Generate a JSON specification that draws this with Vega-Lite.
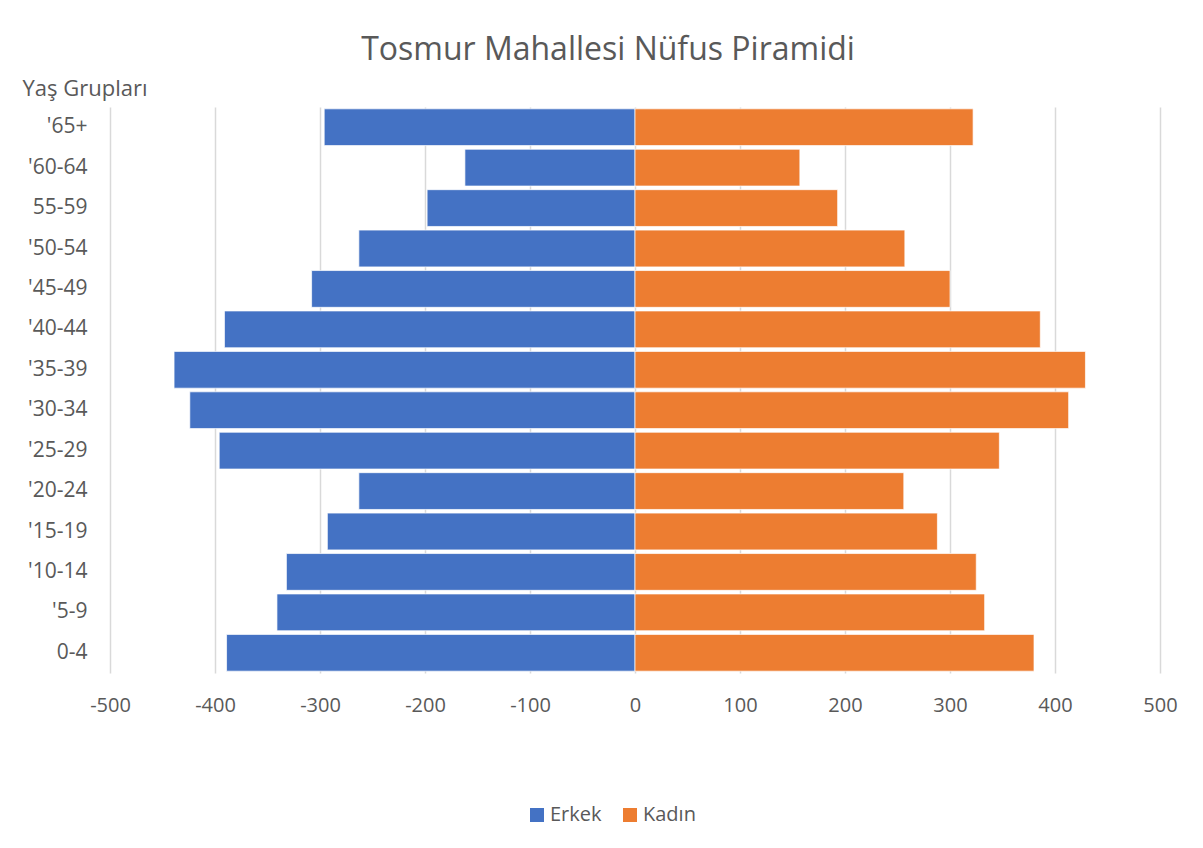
{
  "$schema": "https://vega.github.io/schema/vega-lite/v6.json",
  "autosize": "none",
  "width": 1050,
  "height": 566,
  "padding": {"left": 110, "top": 107, "right": 43, "bottom": 175},
  "background": "white",
  "config": {
    "font": "Open Sans",
    "view": {"stroke": null}
  },
  "title": {
    "text": "Tosmur Mahallesi Nüfus Piramidi",
    "font": "Open Sans",
    "fontSize": 32,
    "fontWeight": "normal",
    "color": "#595959",
    "anchor": "middle",
    "frame": "group",
    "dx": -27,
    "dy": 59,
    "baseline": "alphabetic",
    "offset": 44
  },
  "data": {
    "values": [
      {"age": "'65+", "sex": "Erkek", "value": -296},
      {"age": "'60-64", "sex": "Erkek", "value": -162},
      {"age": "55-59", "sex": "Erkek", "value": -198},
      {"age": "'50-54", "sex": "Erkek", "value": -263},
      {"age": "'45-49", "sex": "Erkek", "value": -308},
      {"age": "'40-44", "sex": "Erkek", "value": -391},
      {"age": "'35-39", "sex": "Erkek", "value": -439},
      {"age": "'30-34", "sex": "Erkek", "value": -424},
      {"age": "'25-29", "sex": "Erkek", "value": -396},
      {"age": "'20-24", "sex": "Erkek", "value": -263},
      {"age": "'15-19", "sex": "Erkek", "value": -293},
      {"age": "'10-14", "sex": "Erkek", "value": -332},
      {"age": "'5-9", "sex": "Erkek", "value": -341},
      {"age": "0-4", "sex": "Erkek", "value": -389},
      {"age": "'65+", "sex": "Kadın", "value": 322},
      {"age": "'60-64", "sex": "Kadın", "value": 157},
      {"age": "55-59", "sex": "Kadın", "value": 193},
      {"age": "'50-54", "sex": "Kadın", "value": 257},
      {"age": "'45-49", "sex": "Kadın", "value": 300},
      {"age": "'40-44", "sex": "Kadın", "value": 386},
      {"age": "'35-39", "sex": "Kadın", "value": 429},
      {"age": "'30-34", "sex": "Kadın", "value": 413},
      {"age": "'25-29", "sex": "Kadın", "value": 347},
      {"age": "'20-24", "sex": "Kadın", "value": 256},
      {"age": "'15-19", "sex": "Kadın", "value": 288},
      {"age": "'10-14", "sex": "Kadın", "value": 325},
      {"age": "'5-9", "sex": "Kadın", "value": 333},
      {"age": "0-4", "sex": "Kadın", "value": 380}
    ]
  },
  "mark": {"type": "bar", "stroke": "white", "strokeWidth": 1, "strokeOpacity": 0.7},
  "encoding": {
    "y": {
      "field": "age",
      "type": "nominal",
      "sort": ["'65+", "'60-64", "55-59", "'50-54", "'45-49", "'40-44", "'35-39", "'30-34", "'25-29", "'20-24", "'15-19", "'10-14", "'5-9", "0-4"],
      "scale": {"paddingInner": 0.09, "paddingOuter": 0.045},
      "axis": {
        "title": "Yaş Grupları",
        "titleAngle": 0,
        "titleAlign": "left",
        "titleBaseline": "alphabetic",
        "titleX": -88,
        "titleY": -12,
        "titleFont": "Open Sans",
        "titleFontSize": 22,
        "titleFontWeight": "normal",
        "titleColor": "#595959",
        "labelFont": "Open Sans",
        "labelFontSize": 21,
        "labelColor": "#595959",
        "labelPadding": 23,
        "ticks": false,
        "domain": false,
        "grid": false
      }
    },
    "x": {
      "field": "value",
      "type": "quantitative",
      "scale": {"domain": [-500, 500], "nice": false},
      "axis": {
        "title": null,
        "values": [-500, -400, -300, -200, -100, 0, 100, 200, 300, 400, 500],
        "labelExpr": "datum.value < 0 ? '-' + abs(datum.value) : '' + datum.value",
        "labelFlush": false,
        "labelFont": "Open Sans",
        "labelFontSize": 20,
        "labelColor": "#595959",
        "labelPadding": 22,
        "ticks": false,
        "domain": false,
        "grid": true,
        "gridColor": "#d9d9d9",
        "gridWidth": 1.5
      }
    },
    "color": {
      "field": "sex",
      "type": "nominal",
      "sort": ["Erkek", "Kadın"],
      "scale": {"domain": ["Erkek", "Kadın"], "range": ["#4472C4", "#ED7D31"]},
      "legend": {
        "title": null,
        "orient": "none",
        "direction": "horizontal",
        "legendX": 417,
        "legendY": 698,
        "symbolType": "square",
        "symbolSize": 196,
        "symbolStrokeWidth": 0,
        "labelFont": "Open Sans",
        "labelFontSize": 20,
        "labelColor": "#595959",
        "labelOffset": 3,
        "columnPadding": 18
      }
    }
  }
}
